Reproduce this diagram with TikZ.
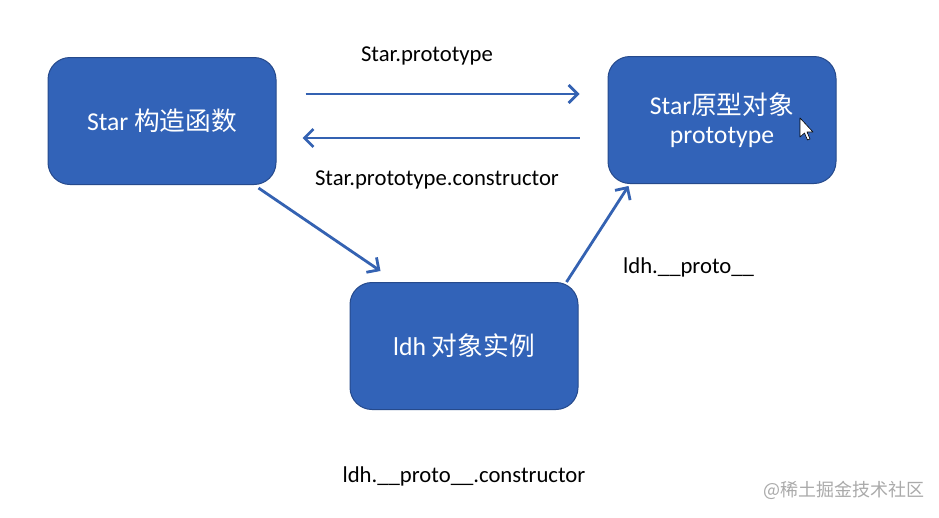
\documentclass[tikz,border=0pt]{standalone}
\usepackage{fontspec}
\setmainfont{Carlito}
\newfontfamily\cjk{Noto Sans CJK SC}
\usetikzlibrary{arrows.meta,calc}
\definecolor{boxfill}{RGB}{50,99,184}
\definecolor{boxline}{RGB}{38,74,140}
\definecolor{arrcol}{RGB}{52,98,178}
\definecolor{wm}{RGB}{170,170,170}
\tikzset{
  objbox/.style={draw=boxline, line width=1pt, fill=boxfill, rounded corners=22pt,
    minimum width=228pt, minimum height=127pt, text=white, align=center,
    font=\fontsize{25.7}{31}\selectfont, inner sep=0pt},
  conn/.style={draw=arrcol, line width=2.8pt, -{Straight Barb[length=9pt,width=18pt,line width=2.8pt]}},
  lbl/.style={font=\fontsize{22.7}{27}\selectfont, text=black, inner sep=0pt}
}
\begin{document}
\begin{tikzpicture}[x=1pt,y=-1pt]
\useasboundingbox[fill=white] (0,0) rectangle (939,517);
\node[objbox] (star) at (162,121) {Star {\cjk 构造函数}};
\node[objbox] (proto) at (722,120) {Star{\cjk 原型对象}\\[-2pt]prototype};
\node[objbox] (ldh) at (464,346) {ldh {\cjk 对象实例}};

\draw[conn, shorten <=29pt, shorten >=28pt] ([yshift=27pt]star.east) -- ([yshift=26pt]proto.west);
\draw[conn, shorten <=28pt, shorten >=26pt] ([yshift=-18pt]proto.west) -- ([yshift=-17pt]star.east);
\draw[conn] ($(star.south east)+(-18,3)$) -- ($(ldh.north west)+(31,-11)$);
\draw[conn] ($(ldh.north east)+(-12,0)$) -- ($(proto.south west)+(21,2)$);

\node[lbl] (l1) at (427,56) {Star.prototype};
\node[lbl] (l2) at (437,180) {Star.prototype.constructor};
\node[lbl, anchor=west] (l3) at (623,267) {ldh.\_\_proto\_\_};
\node[lbl] (l4) at (464,476) {ldh.\_\_proto\_\_.constructor};
\node[text=wm, font=\cjk\fontsize{18}{22}\selectfont, inner sep=0pt] (wmk) at (844,490) {@稀土掘金技术社区};

% mouse cursor
\draw[black, fill=white, line width=0.6pt, line join=round]
  (800,118) -- (800,137) -- (804.5,133) -- (807.5,140) -- (810,139) -- (807,132) -- (813,132) -- cycle;
\end{tikzpicture}
\end{document}
